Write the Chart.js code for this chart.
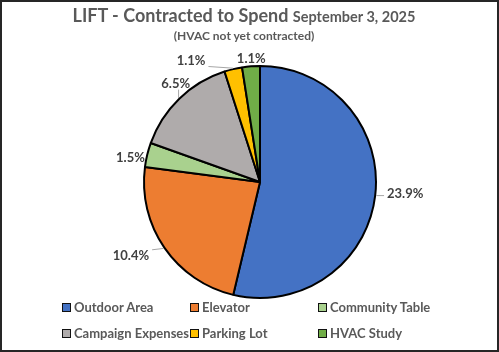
<!DOCTYPE html>
<html>
<head>
<meta charset="utf-8">
<script src="https://cdn.jsdelivr.net/npm/chart.js@4.4.1/dist/chart.umd.min.js"></script>
<style>
  html, body { margin: 0; padding: 0; background: #fff; }
  #wrap { position: relative; width: 499px; height: 352px; font-family: Lato, 'Open Sans', sans-serif; color: #595959; overflow: hidden; }
  #frame { position: absolute; left: 0; top: 0; width: 499px; height: 352px; box-sizing: border-box; border: 2px solid #262626; pointer-events: none; }
  #title { position: absolute; left: 0; width: 488px; top: 4px; text-align: center; font-weight: bold; font-size: 18px; white-space: nowrap; }
  #title small { font-size: 14.5px; }
  #subtitle { position: absolute; left: 0; width: 488px; top: 28px; text-align: center; font-weight: bold; font-size: 12px; }
  #legend { position: absolute; left: 62px; top: 299px; display: grid; grid-template-columns: 128px 128px 128px; grid-auto-rows: 26px; font-weight: bold; font-size: 13px; }
  #legend div { display: flex; align-items: center; height: 16px; white-space: nowrap; }
  #legend span.box { display: inline-block; width: 7px; height: 7px; border: 1px solid #111; margin-right: 3px; }
  canvas { position: absolute; left: 0; top: 0; }
</style>
</head>
<body>
<div id="wrap">
  <canvas id="pie" width="499" height="352"></canvas>
  <div id="title">LIFT - Contracted to Spend <small>September 3, 2025</small></div>
  <div id="subtitle">(HVAC not yet contracted)</div>
  <div id="legend"></div>
  <div id="frame"></div>
</div>
<script>
// categories and values (percent of total budget, as shown on the labels)
const categories = ['Outdoor Area', 'Elevator', 'Community Table', 'Campaign Expenses', 'Parking Lot', 'HVAC Study'];
const percents = [23.9, 10.4, 1.5, 6.5, 1.1, 1.1];
const colors = ['#4472C4', '#ED7D31', '#A9D18E', '#AFABAB', '#FFC000', '#70AD47'];

// legend (html, fixed columns like the excel one)
const legendEl = document.getElementById('legend');
categories.forEach(function(name, i) {
    const item = document.createElement('div');
    const box = document.createElement('span');
    box.className = 'box';
    box.style.background = colors[i];
    item.appendChild(box);
    item.appendChild(document.createTextNode(name));
    legendEl.appendChild(item);
});

// outside labels with leader lines
const outsideLabels = {
    id: 'outsideLabels',
    afterDatasetsDraw(chart, args, opts) {
        const ctx = chart.ctx;
        const meta = chart.getDatasetMeta(0);
        ctx.save();
        ctx.font = 'bold 13px Lato, "Open Sans", sans-serif';
        ctx.textAlign = 'center';
        ctx.textBaseline = 'middle';
        meta.data.forEach(function(arc, i) {
            const p = arc.getProps(['x', 'y', 'startAngle', 'endAngle', 'outerRadius'], true);
            const mid = (p.startAngle + p.endAngle) / 2;
            const dx = Math.cos(mid), dy = Math.sin(mid);
            const text = chart.data.datasets[0].data[i].toFixed(1) + '%';
            const w = ctx.measureText(text).width, h = 12;
            const shift = opts.shift[i] || [0, 0];
            const lx = p.x + dx * (p.outerRadius + 8) + dx * w / 2 + shift[0];
            const ly = p.y + dy * (p.outerRadius + 8) + dy * h / 2 + shift[1];
            // leader line when label sits away from the slice
            const ex = p.x + dx * (p.outerRadius + 1), ey = p.y + dy * (p.outerRadius + 1);
            const bx = Math.min(Math.max(ex, lx - w / 2 - 3), lx + w / 2 + 3);
            const by = Math.min(Math.max(ey, ly - h / 2), ly + h / 2);
            if (Math.hypot(ex - bx, ey - by) > 5) {
                ctx.strokeStyle = '#A6A6A6';
                ctx.lineWidth = 1;
                ctx.beginPath();
                ctx.moveTo(ex, ey);
                ctx.lineTo(bx, by);
                ctx.stroke();
            }
            ctx.fillStyle = '#404040';
            ctx.fillText(text, lx, ly);
        });
        ctx.restore();
    }
};

const ctx = document.getElementById('pie').getContext('2d');
new Chart(ctx, {
    type: 'pie',
    data: {
        labels: categories,
        datasets: [{
            data: percents,
            backgroundColor: colors,
            borderColor: '#000',
            borderWidth: 2
        }]
    },
    options: {
        responsive: false,
        animation: false,
        devicePixelRatio: 1,
        layout: {
            padding: { left: 143, right: 122, top: 65, bottom: 53 }
        },
        plugins: {
            legend: { display: false },
            tooltip: { enabled: false },
            outsideLabels: {
                shift: [[4, -3], [-12, 0], [5, 6], [12, -5], [-37, 5], [2, 6]]
            }
        }
    },
    plugins: [outsideLabels]
});
</script>
</body>
</html>
